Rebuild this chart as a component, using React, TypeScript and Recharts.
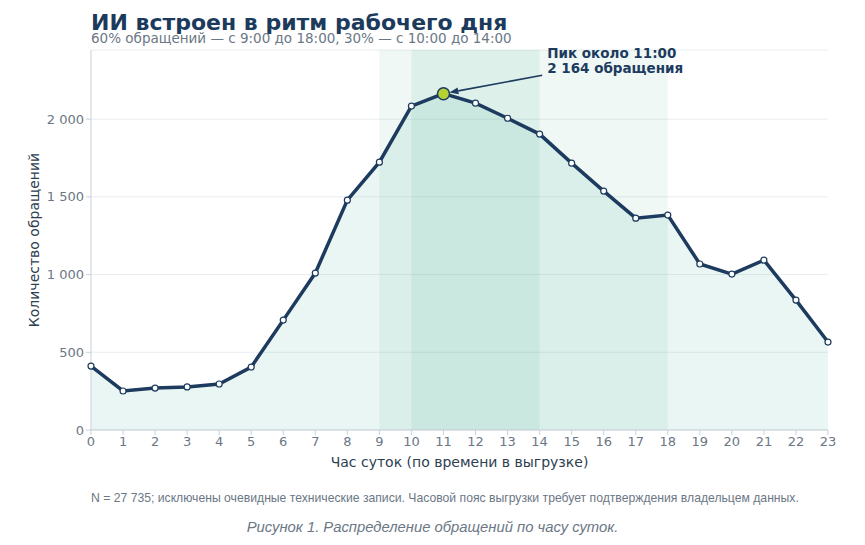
import React from "react";
import {
  ComposedChart, Area, XAxis, YAxis, CartesianGrid, ReferenceArea, ReferenceDot, ReferenceLine,
} from "recharts";

const hours = [0, 1, 2, 3, 4, 5, 6, 7, 8, 9, 10, 11, 12, 13, 14, 15, 16, 17, 18, 19, 20, 21, 22, 23];
const requests = [411, 251, 270, 277, 296, 405, 707, 1010, 1479, 1723, 2084, 2164, 2103, 2006, 1904, 1717, 1537, 1363, 1383, 1068, 1003, 1093, 836, 566];
const yTicks = [0, 500, 1000, 1500, 2000];

const workBand = [9, 18];
const coreBand = [10, 14];
const peak = { hour: 11, value: 2164 };
const calloutFrom = { hour: 14.08, value: 2283 };
const calloutLines = ["Пик около 11:00", "2 164 обращения"];

const NAVY = "#1d3b5e";
const TEAL = "#2fa585";
const GRAY = "#6b7785";
const FONT = "DejaVu Sans, sans-serif";

const data = hours.map((h, i) => ({ hour: h, value: requests[i] }));

const fmt = (v: number) => String(v).replace(/\B(?=(\d{3})+(?!\d))/g, " ");

function Callout(props: any) {
  const { x1, y1, x2, y2 } = props;
  const ang = Math.atan2(y2 - y1, x2 - x1);
  const tipX = x2 - Math.cos(ang) * 6;
  const tipY = y2 - Math.sin(ang) * 6;
  const len = 9, w = 3.5;
  const bx = tipX - Math.cos(ang) * len, by = tipY - Math.sin(ang) * len;
  const px = -Math.sin(ang) * w, py = Math.cos(ang) * w;
  return (
    <g>
      <line x1={x1} y1={y1} x2={bx} y2={by} stroke={NAVY} strokeWidth={1.6} />
      <polygon points={`${tipX},${tipY} ${bx + px},${by + py} ${bx - px},${by - py}`} fill={NAVY} />
      {calloutLines.map((t, i) => (
        <text key={i} x={x1 + 5} y={y1 - 17 + i * 15} fill={NAVY} fontSize={13.5} fontWeight="bold" fontFamily={FONT}>
          {t}
        </text>
      ))}
    </g>
  );
}

export default function App() {
  return (
    <div style={{ position: "absolute", left: 0, top: 0, width: 865, height: 545, background: "#fff", fontFamily: FONT }}>
      <div style={{ position: "absolute", left: 91, top: 10, fontSize: 22, fontWeight: "bold", color: "#1b3a5c", whiteSpace: "nowrap" }}>
        ИИ встроен в ритм рабочего дня
      </div>
      <div style={{ position: "absolute", left: 91, top: 30, fontSize: 13.5, color: GRAY, whiteSpace: "nowrap" }}>
        60% обращений — с 9:00 до 18:00, 30% — с 10:00 до 14:00
      </div>
      <ComposedChart width={865} height={545} data={data} margin={{ top: 50, right: 37, bottom: 85, left: 0 }}>
        <CartesianGrid vertical={false} stroke="#e8edf1" />
        <ReferenceArea x1={workBand[0]} x2={workBand[1]} y1={0} y2={2445} fill={TEAL} fillOpacity={0.08} stroke="none" />
        <ReferenceArea x1={coreBand[0]} x2={coreBand[1]} y1={0} y2={2445} fill={TEAL} fillOpacity={0.09} stroke="none" />
        <XAxis
          dataKey="hour" type="number" domain={[0, 23]} ticks={hours} interval={0}
          stroke="#c9d1d9" tick={{ fill: GRAY, fontSize: 13, fontFamily: FONT }} tickSize={5}
          label={{ value: "Час суток (по времени в выгрузке)", position: "insideBottom", offset: -7, fill: "#2d3e50", fontSize: 14, fontFamily: FONT }}
          height={30}
        />
        <YAxis
          domain={[0, 2445]} ticks={yTicks} tickFormatter={fmt} width={91}
          stroke="#c9d1d9" tick={{ fill: GRAY, fontSize: 13, fontFamily: FONT }} tickSize={5}
          label={{ value: "Количество обращений", angle: -90, position: "insideLeft", offset: 34, fill: "#2d3e50", fontSize: 14, fontFamily: FONT, style: { textAnchor: "middle" } }}
        />
        <Area
          type="linear" dataKey="value" stroke={NAVY} strokeWidth={3.5} fill={TEAL} fillOpacity={0.1}
          dot={{ r: 3, fill: "#ffffff", fillOpacity: 1, stroke: NAVY, strokeWidth: 1.2 }} activeDot={false} isAnimationActive={false}
        />
        <ReferenceLine
          segment={[{ x: calloutFrom.hour, y: calloutFrom.value }, { x: peak.hour, y: peak.value }]}
          shape={(p: any) => <Callout {...p} />}
          ifOverflow="visible"
        />
        <ReferenceDot x={peak.hour} y={peak.value} r={6} fill="#b5d334" stroke={NAVY} strokeWidth={1.5} />
      </ComposedChart>
      <div style={{ position: "absolute", left: 91, top: 491, fontSize: 12.2, color: GRAY, fontFamily: "Liberation Sans, sans-serif", whiteSpace: "nowrap" }}>
        N = 27 735; исключены очевидные технические записи. Часовой пояс выгрузки требует подтверждения владельцем данных.
      </div>
      <div style={{ position: "absolute", left: 0, width: 865, top: 519, textAlign: "center", fontSize: 14.8, fontStyle: "italic", color: GRAY, fontFamily: "Liberation Sans, sans-serif" }}>
        Рисунок 1. Распределение обращений по часу суток.
      </div>
    </div>
  );
}
